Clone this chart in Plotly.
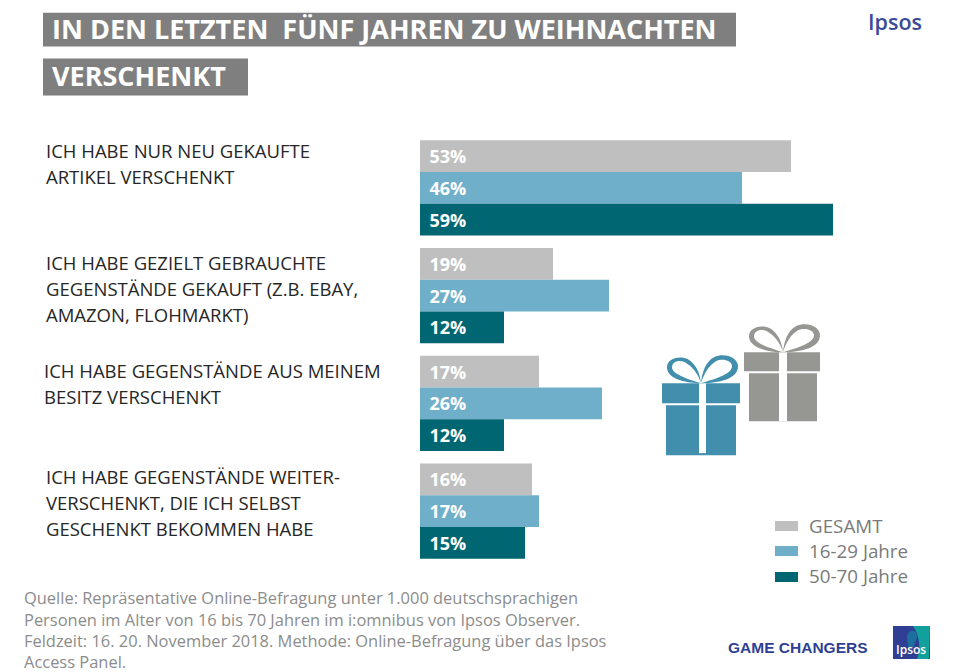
import plotly.graph_objects as go

W, H = 957, 672
PL, PT, PB = 420, 133.5, 565  # plot box in px

# ---- data ----
category_ids = ["Neu gekauft", "Gebraucht gekauft", "Aus Besitz", "Weiterverschenkt"]
category_lines = [
    ["ICH HABE NUR NEU GEKAUFTE", "ARTIKEL VERSCHENKT"],
    ["ICH HABE GEZIELT GEBRAUCHTE", "GEGENSTÄNDE GEKAUFT (Z.B. EBAY,", "AMAZON, FLOHMARKT)"],
    ["ICH HABE GEGENSTÄNDE AUS MEINEM", "BESITZ VERSCHENKT"],
    ["ICH HABE GEGENSTÄNDE WEITER-", "VERSCHENKT, DIE ICH SELBST", "GESCHENKT BEKOMMEN HABE"],
]
series_names = ["GESAMT", "16-29 Jahre", "50-70 Jahre"]
gesamt = [53, 19, 17, 16]
jung = [46, 27, 26, 17]
alt = [59, 12, 12, 15]
series_colors = ["#bfbfbf", "#70afc9", "#006672"]
title_lines = ["IN DEN LETZTEN  FÜNF JAHREN ZU WEIHNACHTEN", "VERSCHENKT"]
source_lines = [
    "Quelle: Repräsentative Online-Befragung unter 1.000 deutschsprachigen",
    "Personen im Alter von 16 bis 70 Jahren im i:omnibus von Ipsos Observer.",
    "Feldzeit: 16. 20. November 2018. Methode: Online-Befragung über das Ipsos",
    "Access Panel.",
]

# ---- helpers: pixel -> paper ----
def fx(px):
    return (px - PL) / (W - PL)

def fy(py):
    return (PB - py) / (PB - PT)

FONT = "Open Sans"
shapes, annos = [], []

def rect(x0, y0, x1, y1, color):
    shapes.append(dict(type="rect", xref="paper", yref="paper", x0=fx(x0), x1=fx(x1),
                       y0=fy(y1), y1=fy(y0), fillcolor=color, line_width=0, layer="above"))

def poly(points, color):
    d = ""
    for cmd, *pts in points:
        d += cmd + " ".join(f"{fx(x):.5f},{fy(y):.5f}" for x, y in pts) + " "
    shapes.append(dict(type="path", xref="paper", yref="paper", path=d + "Z",
                       fillcolor=color, line_width=0, layer="above"))

def text(px, py, s, size, color, bold=False, family=FONT, anchor="left", weight=None):
    font = dict(family=family, size=size, color=color)
    if weight:
        font["weight"] = weight
    annos.append(dict(xref="paper", yref="paper", x=fx(px), y=fy(py), text=f"<b>{s}</b>" if bold else s,
                      showarrow=False, xanchor=anchor, yanchor="middle", borderpad=0, font=font))

# ---- title ----
rect(43, 12, 736, 46, "#7f7f7f")
rect(43, 58, 248, 95, "#7f7f7f")
text(51, 28, title_lines[0], 27, "#ffffff", True)
text(51, 75, title_lines[1], 27, "#ffffff", True)

# ---- category labels ----
label_pos = [(45, 150), (45, 262), (43, 370), (45, 476)]
for (lx, ly), lines in zip(label_pos, category_lines):
    for i, line in enumerate(lines):
        text(lx, ly + i * 26, line, 18.5, "#262626")

# ---- legend ----
for yy, name, col in zip([526, 551, 577], series_names, series_colors):
    rect(775, yy - 5, 798, yy + 5, col)
    text(808, yy - 0.5, name, 18.8, "#7a7a7a")

# ---- source ----
for i, line in enumerate(source_lines):
    text(23, 598 + i * 21.3, line, 16.45, "#8c8c8c")

# ---- gifts ----
def gift(dx, dy, s_lid, s_box, ribbon, color):
    lx0, ly0, lx1, ly1 = s_lid
    bx0, by0, bx1, by1 = s_box
    rect(lx0, ly0, lx1, ly1, color)
    rect(bx0, by0, bx1, by1, color)
    rx0, rx1, ry0, ry1 = ribbon
    rect(rx0, ry0, rx1, ry1, "#ffffff")
    def P(x, y):
        return (x + dx, y + dy)
    poly([("M", P(701, 383)),
          ("C", P(690, 383), P(667, 380), P(667, 367)),
          ("C", P(667, 358), P(680, 355), P(688, 359)),
          ("C", P(695, 363), P(700, 372), P(701, 383)),
          ("C", P(698, 373), P(692, 366), P(685, 362)),
          ("C", P(678, 359), P(672, 362), P(672, 367)),
          ("C", P(672, 374), P(688, 379), P(701, 383))], color)
    poly([("M", P(701, 383)),
          ("C", P(712, 383), P(738, 381), P(738, 366)),
          ("C", P(738, 357), P(724, 352), P(714, 357)),
          ("C", P(706, 361), P(702, 372), P(701, 383)),
          ("C", P(704, 373), P(709, 365), P(716, 361)),
          ("C", P(722, 358), P(732, 360), P(732, 366)),
          ("C", P(732, 374), P(714, 379), P(701, 383))], color)

gift(0, 0, (662, 383, 740, 403), (666, 405, 736, 455), (699, 706, 383, 453), "#418fad")
gift(82, -31, (744, 352, 820, 371), (749, 373, 817, 421), (779, 787, 352, 421), "#969793")

# ---- logos ----
text(867, 21, "Ipsos", 21.5, "#3a4a96", False, "Open Sans", weight=600)
text(727, 648, "GAME CHANGERS", 15.5, "#2f3f94", True, "Liberation Sans")
rect(893, 626, 930, 659, "#2f3f94")
poly([("M", (913, 626)), ("L", (930, 626)), ("L", (929, 659)), ("L", (917, 659)),
      ("C", (921, 650), (920, 636), (913, 626))], "#12a09c")
poly([("M", (907, 638)), ("C", (907, 630), (916, 628), (917, 636)),
      ("C", (917, 641), (914, 643), (914, 647)), ("L", (908, 647)),
      ("C", (909, 643), (907, 642), (907, 638))], "#1d6f9e")
text(911, 650, "Ipsos", 12, "#ffffff", False, "Open Sans", "center", weight=600)

# ---- bars ----
fig = go.Figure()
for name, vals, col in zip(series_names, [gesamt, jung, alt], series_colors):
    fig.add_bar(y=category_ids, x=vals, name=name, orientation="h", marker=dict(color=col, line_width=0),
                texttemplate="\u00a0\u200a%{x}%", textposition="inside", insidetextanchor="start",
                textangle=0, constraintext="none",
                textfont=dict(family=FONT, size=18, color="#ffffff", weight="bold"))

fig.update_layout(
    width=W, height=H, autosize=False,
    margin=dict(l=PL, r=0, t=PT, b=H - PB, pad=0),
    paper_bgcolor="#ffffff", plot_bgcolor="#ffffff",
    barmode="group", bargap=0.116, bargroupgap=0,
    showlegend=False,
    shapes=shapes, annotations=annos,
    xaxis=dict(range=[0, (W - PL) / 7.0], visible=False, fixedrange=True),
    yaxis=dict(autorange="reversed", visible=False, fixedrange=True),
)
fig.write_html("out.html", config={"displayModeBar": False},
               post_script="document.body.style.margin='0';document.body.style.overflow='hidden';")
